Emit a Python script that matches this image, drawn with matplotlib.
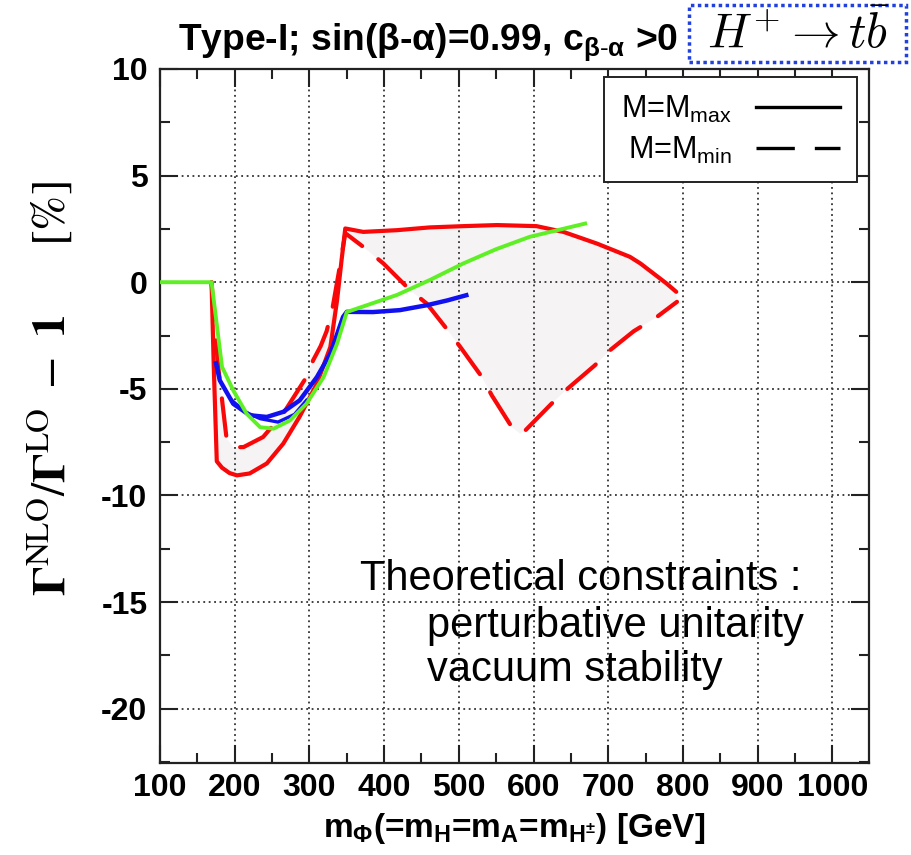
import matplotlib
matplotlib.use("Agg")
import matplotlib.pyplot as plt
from matplotlib.lines import Line2D
from matplotlib.patches import Rectangle
from matplotlib.ticker import MultipleLocator

plt.rcParams['font.family'] = ['Liberation Sans', 'DejaVu Sans']
plt.rcParams['mathtext.fontset'] = 'custom'
plt.rcParams['mathtext.rm'] = 'Liberation Sans'
plt.rcParams['mathtext.it'] = 'Liberation Sans:italic'
plt.rcParams['mathtext.bf'] = 'Liberation Sans:bold'
plt.rcParams['axes.unicode_minus'] = False

# ---- data ----
mmax_x = [169, 172, 176, 183, 193, 203, 220, 243, 265, 287, 310, 328, 337, 343, 348,
          372, 417, 461, 506, 551, 604, 640, 685, 729, 743, 778, 791]
mmax_y = [0.0, -4.0, -8.4, -8.7, -8.95, -9.06, -8.97, -8.5, -7.57, -6.3, -4.76, -3.04, -0.85, 1.03, 2.52,
          2.36, 2.44, 2.57, 2.63, 2.68, 2.63, 2.36, 1.81, 1.19, 0.88, -0.06, -0.45]

mmin_x = [169, 173, 178, 189, 198, 212, 238, 265, 296, 305, 315, 323, 331, 339, 348,
          372, 399, 435, 457, 484, 502, 531, 544, 571, 582, 589, 624, 644, 682, 702, 734, 765, 792]
mmin_y = [0.0, -2.0, -4.0, -7.3, -7.75, -7.73, -7.26, -6.16, -4.45, -3.66, -3.0, -2.3, -1.2, 0.4, 2.3,
          1.66, 0.88, -0.38, -1.0, -2.2, -3.04, -4.45, -5.3, -6.8, -7.1, -6.95, -5.7, -5.04, -3.9, -3.2, -2.3, -1.63, -0.92]

green_x = [100, 169, 183, 198, 216, 234, 252, 274, 296, 319, 337, 350, 417, 461, 506, 550, 595, 669]
green_y = [0.0, 0.0, -3.97, -5.07, -6.17, -6.8, -6.87, -6.48, -5.7, -4.45, -2.88, -1.4, -0.6, 0.1, 0.88, 1.55, 2.13, 2.75]

blue_x = [175, 180, 198, 220, 243, 265, 287, 310, 328, 345, 350, 385, 421, 457, 485, 510]
blue_y = [-3.8, -4.6, -5.7, -6.24, -6.32, -6.08, -5.54, -4.45, -3.35, -1.63, -1.39, -1.4, -1.31, -1.08, -0.85, -0.61]

blue2_x = [196, 215, 234, 258, 280, 296]
blue2_y = [-5.54, -6.1, -6.4, -6.56, -6.2, -5.54]

xticks = [100, 200, 300, 400, 500, 600, 700, 800, 900, 1000]
yticks = [10, 5, 0, -5, -10, -15, -20]

RED = '#f80808'
GREEN = '#5fef25'
BLUE = '#1010f0'

fig = plt.figure(figsize=(9.11, 8.55), dpi=100)
ax = fig.add_axes([160/911, 1-763/855, 709/911, 694/855])

# shaded band between M=Mmax and M=Mmin
ax.fill(mmax_x + mmin_x[::-1], mmax_y + mmin_y[::-1], color='#f5f3f3', lw=0, zorder=1)

ax.plot(mmax_x, mmax_y, color=RED, lw=3.0, solid_capstyle='round', zorder=3)
ax.plot(mmin_x, mmin_y, color=RED, lw=3.0, dashes=(9, 5), dash_capstyle='round', zorder=3)
ax.plot(blue_x, blue_y, color=BLUE, lw=3.2, zorder=4)
ax.plot(blue2_x, blue2_y, color=BLUE, lw=2.4, zorder=4)
ax.plot(green_x, green_y, color=GREEN, lw=2.8, zorder=5)

ax.set_xlim(100, 1049)
ax.set_ylim(-22.55, 10)
ax.set_xticks(xticks)
ax.set_yticks(yticks)
ax.xaxis.set_minor_locator(MultipleLocator(50))
ax.yaxis.set_minor_locator(MultipleLocator(2.5))
ax.tick_params(which='both', direction='in', top=True, right=True, width=1.5, color='#222222')
ax.tick_params(which='major', length=13, labelsize=23, pad=7)
ax.tick_params(axis='y', which='major', pad=9)
ax.tick_params(which='minor', length=7)
for lab in ax.get_xticklabels() + ax.get_yticklabels():
    lab.set_fontweight('bold')
ax.grid(True, which='major', color='#333333', lw=1.3, linestyle=(0, (1, 2)))
for s in ax.spines.values():
    s.set_linewidth(1.6)
    s.set_color('#222222')

ax.set_xlabel(r'm$_\mathbf{\Phi}$(=m$_\mathbf{H}$=m$_\mathbf{A}$=m$_\mathbf{H^{\pm}}$) [GeV]',
              fontsize=24, fontweight='bold', labelpad=6)

# legend
handles = [Line2D([], [], color='black', lw=2.4),
           Line2D([], [], color='black', lw=2.4, dashes=(11.5, 6))]
leg = ax.legend(handles, [r'M=M$_{\mathrm{max}}$', r'M=M$_{\mathrm{min}}$'],
                loc='upper right', bbox_to_anchor=(0.983, 0.988), borderaxespad=0,
                markerfirst=False, fontsize=22, handlelength=2.75, handletextpad=0.8,
                borderpad=0.55, labelspacing=0.3, fancybox=False, framealpha=1,
                edgecolor='#222222')
leg.get_frame().set_linewidth(1.4)
leg._legend_box.align = 'right'

# annotation text
ax.annotate('Theoretical constraints :', xy=(360/911, 1-590/855), xycoords='figure fraction',
            fontsize=30, ha='left', va='baseline')
ax.annotate('perturbative unitarity', xy=(427/911, 1-637/855), xycoords='figure fraction',
            fontsize=30, ha='left', va='baseline')
ax.annotate('vacuum stability', xy=(427/911, 1-681/855), xycoords='figure fraction',
            fontsize=30, ha='left', va='baseline')

# title
fig.text(178/911, 1-50/855, r'Type-I; sin(β-α)=0.99, c$_{\mathbf{β\text{-}α}}$ >0',
         fontsize=26.8, fontweight='bold', ha='left', va='baseline')

# H+ -> tb box
fig.add_artist(Rectangle((689/911, 1-62/855), 217/911, 57/855, transform=fig.transFigure,
                         fill=False, edgecolor='#2040e0', lw=2.5, linestyle=(0, (1, 1))))
fig.text(798/911, 1-34/855, r'$H^{+}\to t\bar{b}$', fontsize=35, ha='center', va='center',
         math_fontfamily='cm')

# y label
fig.text(51/911, 0.545, r'$\mathbf{\Gamma}^{\mathrm{NLO}}/\mathbf{\Gamma}^{\mathrm{LO}}\ -\ \mathbf{1}\qquad[\%]$',
         rotation=90, fontsize=34, ha='center', va='center', math_fontfamily='stix')

fig.savefig('out.png', dpi=100)
